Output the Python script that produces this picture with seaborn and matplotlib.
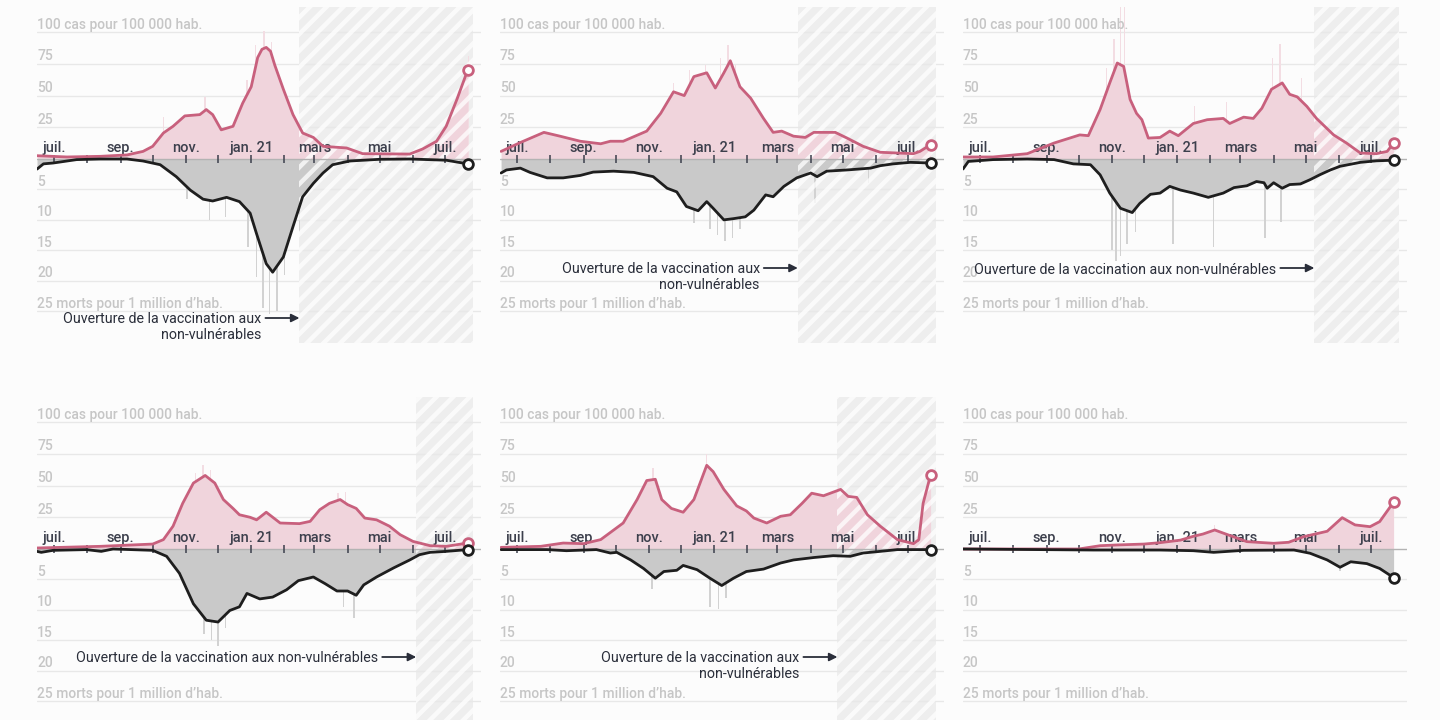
import numpy as np
import pandas as pd
import matplotlib
matplotlib.use("Agg")
import matplotlib.pyplot as plt
import seaborn as sns
from matplotlib.patches import Rectangle

# ---------------- data (x = days since 2020-07-01) ----------------
ORIGIN = pd.Timestamp("2020-07-01")

p1_case_days = [-16, 12, 43, 68, 83, 92, 102, 111, 122, 136, 142, 148, 156, 167, 176, 184, 190, 194, 198, 202, 206, 214, 223, 232, 242, 251, 273, 288, 332, 344, 357, 366, 376, 386]
p1_cases = [2.6, 1.6, 2.1, 3.2, 6, 10, 20.5, 25.8, 34, 35, 39, 35, 23, 25.8, 44, 57, 80, 86.5, 88, 85, 74, 55, 35, 20.5, 17, 10, 8.7, 4.2, 3.9, 7.9, 14, 25.8, 47, 70]
p1_death_days = [-16, -10, -1, 21, 43, 68, 83, 99, 114, 127, 139, 148, 161, 173, 183, 189, 198, 204, 214, 223, 232, 242, 251, 260, 276, 304, 332, 366, 386]
p1_deaths = [1.66, 0.8, 0.66, 0.1, 0, 0, 0.33, 0.94, 2.9, 5.1, 6.6, 6.9, 6.3, 7.0, 8.9, 12.3, 17.2, 18.6, 16.1, 11.1, 6.2, 4.0, 2.3, 0.94, 0.33, 0.05, 0, 0.2, 0.8]
p1_case_spike_days = [102, 141, 180, 188, 196, 203, 387]
p1_case_spikes = [33, 49, 62, 90, 101, 92, 81]
p1_death_spike_days = [124, 145, 160, 181, 189, 195, 201, 208, 215, 229]
p1_death_spikes = [6.5, 10, 9.5, 14.5, 19.4, 24.5, 25.5, 25, 19, 12]

p2_case_days = [-15, 3, 25, 40, 59, 78, 87, 99, 121, 134, 146, 156, 165, 177, 185, 193, 199, 208, 218, 230, 239, 247, 258, 269, 277, 289, 297, 308, 323, 339, 370, 376, 386]
p2_cases = [6, 13, 21, 18, 14, 12, 14, 14, 22, 36, 53, 50, 65, 68, 56, 68, 77.5, 57, 48, 32, 21, 22, 18, 17, 21, 21, 21, 16.5, 10, 5.3, 4.2, 6, 11.3]
p2_death_days = [-15, -10, 3, 12, 28, 43, 59, 71, 90, 109, 127, 140, 149, 158, 169, 177, 183, 193, 202, 213, 221, 232, 239, 249, 261, 274, 280, 289, 308, 330, 339, 351, 367, 386]
p2_deaths = [2.3, 1.8, 1.5, 2.2, 3.1, 3.1, 2.7, 2.15, 2.0, 2.2, 2.9, 4.8, 5.4, 7.8, 8.5, 7.0, 8.1, 10, 9.8, 9.5, 8.4, 5.9, 6.2, 4.5, 3.1, 2.3, 2.9, 2.0, 1.8, 1.5, 1.1, 0.8, 0.55, 0.66]
p2_case_spike_days = [146, 161, 176, 190, 197, 204]
p2_case_spikes = [60, 70, 74, 80, 90, 74]
p2_death_spike_days = [165, 180, 187, 194, 201, 208, 278, 328]
p2_death_spikes = [10.5, 11.5, 12.5, 13.4, 13, 11.5, 7.3, 4]

p3_case_days = [-16, 12, 44, 69, 93, 101, 112, 121, 128, 134, 140, 146, 151, 157, 168, 177, 185, 199, 212, 227, 233, 246, 255, 263, 272, 282, 289, 296, 305, 314, 330, 342, 355, 370, 380, 386]
p3_cases = [1.6, 1.6, 4.2, 12.6, 19, 18.4, 39, 60, 75.7, 73, 47, 36, 31, 16.5, 17, 22, 18.4, 28, 31, 32, 28, 33, 32, 40, 55, 60, 51, 49, 41.5, 32, 19, 12.6, 4.7, 4.2, 6, 12.6]
p3_death_days = [-16, -11, 12, 44, 69, 87, 103, 112, 121, 131, 142, 149, 159, 168, 177, 187, 199, 213, 227, 237, 249, 258, 265, 268, 274, 282, 289, 299, 308, 317, 327, 336, 355, 370, 386]
p3_deaths = [1.65, 0.4, 0.1, 0, 0.1, 0.8, 0.94, 2.6, 5.6, 8.1, 8.8, 7.3, 5.8, 5.6, 4.5, 5.1, 5.6, 6.3, 5.6, 4.7, 4.4, 3.7, 3.9, 4.8, 3.9, 4.8, 4.2, 4.1, 3.4, 2.6, 1.8, 1.2, 0.55, 0.3, 0.2]
p3_case_spike_days = [118, 125, 131, 135, 200, 230, 273, 280, 300]
p3_case_spikes = [72, 95, 125, 125, 42, 45, 80, 91, 64]
p3_death_spike_days = [123, 127, 131, 137, 145, 180, 218, 266, 281]
p3_death_spikes = [15, 16.7, 16, 14, 12, 14, 14.5, 13, 10.3]

p4_case_days = [-16, 43, 92, 102, 111, 120, 130, 141, 150, 158, 167, 173, 183, 189, 198, 211, 229, 239, 248, 257, 267, 274, 282, 290, 301, 313, 323, 335, 351, 366, 386]
p4_cases = [0.8, 2.1, 3.9, 7.4, 18, 36, 52, 58, 52, 39, 32, 27, 25, 23, 29, 20.5, 20, 21.8, 31, 36, 39, 35, 32, 24.4, 23, 18, 11.3, 6, 2.6, 2.1, 4.7]
p4_death_days = [-16, -12, -1, 30, 44, 55, 92, 105, 117, 130, 142, 153, 164, 173, 180, 192, 204, 217, 228, 242, 253, 264, 274, 282, 289, 301, 317, 332, 341, 351, 366, 386]
p4_deaths = [0.39, 0.55, 0.22, 0.1, 0.39, 0, 0.22, 1.2, 4, 9, 11.7, 12, 10.1, 9.5, 7.3, 8.2, 7.9, 6.7, 5.2, 4.6, 5.7, 6.9, 6.9, 7.6, 5.9, 4.6, 3.1, 1.8, 0.94, 0.55, 0.39, 0.1]
p4_case_spike_days = [132, 139, 146, 265, 272]
p4_case_spikes = [60, 66, 62, 44, 45]
p4_death_spike_days = [140, 147, 153, 160, 270, 280]
p4_death_spikes = [14, 15, 16, 13, 9.5, 11.4]

p5_case_days = [-15, 22, 43, 62, 78, 99, 112, 121, 129, 135, 144, 155, 165, 177, 183, 193, 205, 214, 221, 233, 246, 255, 266, 275, 286, 302, 309, 317, 327, 339, 355, 370, 375, 379, 386]
p5_cases = [1.3, 2.1, 4.7, 4.2, 7.4, 20.5, 39, 54, 55, 39, 32, 29, 39, 66, 61, 47, 34, 30, 24.4, 20.5, 25.8, 27, 36, 44, 42, 47, 41.5, 40.7, 27, 18, 7.4, 4.2, 7.4, 36, 58.6]
p5_death_days = [-15, 28, 46, 74, 87, 93, 106, 118, 129, 137, 149, 155, 168, 180, 191, 202, 214, 230, 246, 258, 277, 295, 311, 323, 339, 355, 386]
p5_deaths = [0.1, 0.1, 0.28, 0.1, 0.66, 0.55, 1.8, 3.2, 4.8, 3.7, 3.5, 2.7, 3.4, 4.8, 6.0, 4.8, 3.7, 3.3, 2.3, 1.8, 1.4, 1.1, 1.2, 0.66, 0.39, 0.1, 0.1]
p5_case_spike_days = [127, 177, 300, 384]
p5_case_spikes = [64, 75, 52, 64]
p5_death_spike_days = [126, 180, 188, 195]
p5_death_spikes = [6.5, 9.5, 9.8, 8]

p6_case_days = [-16, 92, 112, 128, 153, 168, 187, 199, 208, 219, 230, 249, 274, 288, 302, 324, 338, 350, 364, 373, 386]
p6_cases = [0, 0, 2.6, 3.2, 3.9, 5, 7, 10, 11.8, 15, 11.6, 5.8, 4.5, 5.3, 9.7, 14, 24.7, 19, 17.6, 21.6, 37]
p6_death_days = [-16, 106, 168, 199, 218, 246, 293, 308, 324, 336, 346, 361, 373, 386]
p6_deaths = [0, 0.17, 0.17, 0.28, 0.55, 0.22, 0.17, 0.7, 1.8, 3.0, 2.1, 2.4, 3.2, 4.7]
p6_case_spike_days = [219]
p6_case_spikes = [19]
p6_death_spike_days = [336, 384]
p6_death_spikes = [3.6, 5.6]

# start of vaccination for non-vulnerable people (hatched period), per panel
vacc_open = ["2021-02-15", "2021-03-20", "2021-05-09", "2021-06-04", "2021-04-26", None]
hatch_end = "2021-07-27"

case_levels = [25, 50, 75, 100]
case_labels = ["25", "50", "75", "100 cas pour 100 000 hab."]
death_levels = [5, 10, 15, 20, 25]
death_labels = ["5", "10", "15", "20", "25 morts pour 1 million d\u2019hab."]

month_labels = {"2020-07-01": "juil.", "2020-09-01": "sep.", "2020-11-01": "nov.",
                "2021-01-01": "jan. 21", "2021-03-01": "mars", "2021-05-01": "mai",
                "2021-07-01": "juil."}

TWO_LINE = "Ouverture de la vaccination aux\nnon-vuln\u00e9rables"
ONE_LINE = "Ouverture de la vaccination aux non-vuln\u00e9rables"
annot_text = [TWO_LINE, TWO_LINE, ONE_LINE, ONE_LINE, TWO_LINE, None]

panels = [
    (p1_case_days, p1_cases, p1_death_days, p1_deaths, p1_case_spike_days, p1_case_spikes, p1_death_spike_days, p1_death_spikes),
    (p2_case_days, p2_cases, p2_death_days, p2_deaths, p2_case_spike_days, p2_case_spikes, p2_death_spike_days, p2_death_spikes),
    (p3_case_days, p3_cases, p3_death_days, p3_deaths, p3_case_spike_days, p3_case_spikes, p3_death_spike_days, p3_death_spikes),
    (p4_case_days, p4_cases, p4_death_days, p4_deaths, p4_case_spike_days, p4_case_spikes, p4_death_spike_days, p4_death_spikes),
    (p5_case_days, p5_cases, p5_death_days, p5_deaths, p5_case_spike_days, p5_case_spikes, p5_death_spike_days, p5_death_spikes),
    (p6_case_days, p6_cases, p6_death_days, p6_deaths, p6_case_spike_days, p6_case_spikes, p6_death_spike_days, p6_death_spikes),
]

# ---------------- style ----------------
sns.set_theme(style="white")
plt.rcParams["font.family"] = ["Roboto", "DejaVu Sans"]
plt.rcParams["hatch.linewidth"] = 3.2

BG = "#fcfcfc"
PINK = "#c8607d"
PINK_FILL = "#f0d4dc"
PINK_SPIKE = "#f3dde3"
GREY_FILL = "#c9c9c9"
GREY_SPIKE = "#d2d2d2"
BLACK = "#1e1e1e"
GRID = "#e8e8e8"
ZERO = "#b3b3b3"
LABEL = "#c6c6c6"
MONTH = "#3c3f4c"
ANNOT = "#2a2e3a"

DEATH_SCALE = 4.8        # one death per million drawn as 4.8 case units
PX_PER_UNIT = 1.268      # pixels per case unit
PX_PER_DAY = 444 / 414.5

def day(s):
    return (pd.Timestamp(s) - ORIGIN).days

month_days = [(d - ORIGIN).days for d in pd.date_range("2020-07-01", "2021-07-01", freq="MS")]

fig = plt.figure(figsize=(14.4, 7.2), dpi=100)
fig.patch.set_facecolor(BG)

for i, (cd, cv, dd, dv, csd, csv, dsd, dsv) in enumerate(panels):
    r, c = divmod(i, 3)
    left_px = 37 + 463 * c
    top_px, bot_px = (7, 343) if r == 0 else (397, 720)
    zero_px = 159 if r == 0 else 549
    ax = fig.add_axes([left_px / 1440, 1 - bot_px / 720, 444 / 1440, (bot_px - top_px) / 720])
    ax.set_facecolor(BG)
    ylo = -(bot_px - zero_px) / PX_PER_UNIT
    yhi = (zero_px - top_px) / PX_PER_UNIT
    ax.axis("off")

    # hatched period
    if vacc_open[i] is not None:
        h0, h1 = day(vacc_open[i]), day(hatch_end)
        ax.add_patch(Rectangle((h0, ylo), h1 - h0, yhi - ylo, facecolor="#eeeeee",
                               edgecolor="none", zorder=0.5))
        ax.add_patch(Rectangle((h0, ylo), h1 - h0, yhi - ylo, fill=False, hatch="//",
                               edgecolor=(1, 1, 1, 0.75), linewidth=0, zorder=2.5))

    # grid + labels
    for v, lab in zip(case_levels, case_labels):
        ax.axhline(v, color=GRID, lw=1, zorder=0.7)
        ax.text(-16, v + 7.5 / PX_PER_UNIT, lab, ha="left", va="center", color=LABEL,
                fontsize=10, fontweight="medium", zorder=5)
    for v, lab in zip(death_levels, death_labels):
        y = -v * DEATH_SCALE
        ax.axhline(y, color=GRID, lw=1, zorder=0.7)
        ax.text(-16, y + 7.5 / PX_PER_UNIT, lab, ha="left", va="center", color=LABEL,
                fontsize=10, fontweight="medium", zorder=5)

    # daily spikes + areas
    ax.bar(np.array(csd, float), np.array(csv, float), width=1.3, color=PINK_SPIKE, lw=0, zorder=0.9)
    ax.bar(np.array(dsd, float), -np.array(dsv, float) * DEATH_SCALE, width=1.3, color=GREY_SPIKE, lw=0, zorder=0.9)
    cd_a = np.array(cd, float); cv_a = np.array(cv, float)
    dd_a = np.array(dd, float); dv_a = -np.array(dv, float) * DEATH_SCALE
    ax.fill_between(cd_a, 0, cv_a, color=PINK_FILL, lw=0, zorder=1)
    ax.fill_between(dd_a, 0, dv_a, color=GREY_FILL, lw=0, zorder=1)

    # zero axis, ticks and month labels
    ax.axhline(0, color=ZERO, lw=1, zorder=3)
    ax.vlines(month_days, -3.2, 3.2, color=MONTH, lw=1.1, zorder=3.1)
    for d, lab in month_labels.items():
        ax.text(day(d), 11 / PX_PER_UNIT, lab, ha="center", va="center", color=MONTH,
                fontsize=10.5, fontweight="medium", zorder=3.2)

    # smoothed lines
    sns.lineplot(x=cd_a, y=cv_a, ax=ax, color=PINK, lw=2, zorder=4)
    sns.lineplot(x=dd_a, y=dv_a, ax=ax, color=BLACK, lw=2, zorder=4)
    ax.plot(cd_a[-1:], cv_a[-1:], "o", ms=7, mfc="white", mec=PINK, mew=2, zorder=6)
    ax.plot(dd_a[-1:], dv_a[-1:], "o", ms=7, mfc="white", mec=BLACK, mew=2, zorder=6)
    ax.set_xlim(-16, 398.5)
    ax.set_ylim(ylo, yhi)

    # annotation
    txt = annot_text[i]
    if txt is not None:
        h0 = day(vacc_open[i])
        ya = ((159 - 318) if i == 0 else (-109 if r == 0 else -108)) / PX_PER_UNIT
        ax.annotate("", xy=(h0, ya), xytext=(h0 - 34 / PX_PER_DAY, ya),
                    arrowprops=dict(arrowstyle="-|>", color=ANNOT, lw=1.3,
                                    mutation_scale=12, shrinkA=0, shrinkB=0), zorder=6)
        yt = ya - (6.5 / PX_PER_UNIT if "\n" in txt else 0)
        ax.text(h0 - 38 / PX_PER_DAY, yt, txt, ha="right", va="center_baseline",
                multialignment="right", color=ANNOT, fontsize=10.3, linespacing=1.15, zorder=6)

fig.savefig("out.png", dpi=100, facecolor=BG)
